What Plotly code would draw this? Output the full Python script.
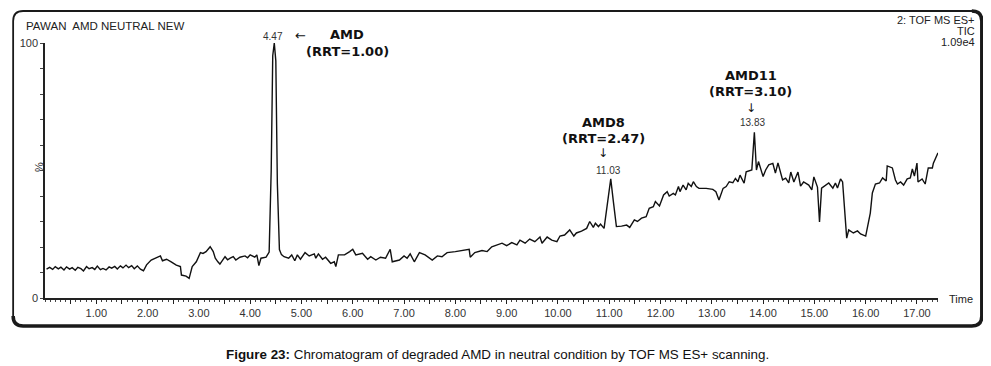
import plotly.graph_objects as go

# ---------------- data ----------------
time_min = [
    0.03, 0.09, 0.15, 0.20, 0.26, 0.31, 0.37, 0.42, 0.48, 0.53, 0.59, 0.64, 0.70, 0.75,
    0.81, 0.86, 0.92, 0.97, 1.02, 1.08, 1.13, 1.19, 1.25, 1.30, 1.36, 1.41, 1.47, 1.52,
    1.58, 1.63, 1.69, 1.74, 1.80, 1.86, 1.92, 1.98,
    2.07, 2.12, 2.17, 2.25, 2.29, 2.37, 2.46, 2.56, 2.64, 2.66, 2.75, 2.81, 2.87, 2.95,
    3.03, 3.08, 3.14, 3.22, 3.28, 3.32, 3.37, 3.41, 3.51, 3.56, 3.61, 3.67, 3.72, 3.80,
    3.90, 3.95, 4.00, 4.09, 4.13, 4.17, 4.21, 4.31, 4.37, 4.41, 4.44, 4.47, 4.50, 4.53,
    4.57, 4.61,
    4.66, 4.75, 4.81, 4.87, 4.92, 4.98, 5.07, 5.15, 5.25, 5.28, 5.33, 5.41, 5.47, 5.57,
    5.64, 5.67, 5.72, 5.84, 5.94, 6.00, 6.06, 6.19, 6.29, 6.35, 6.45, 6.54, 6.64, 6.73,
    6.77, 6.91, 7.00, 7.06, 7.12, 7.20, 7.30, 7.41, 7.55, 7.65, 7.74, 7.84, 8.00, 8.19,
    8.27, 8.29, 8.38, 8.52, 8.62, 8.71, 8.81, 8.91, 9.00, 9.10, 9.20, 9.26, 9.36, 9.45,
    9.55, 9.65, 9.69, 9.79, 9.88, 9.98, 10.04, 10.13, 10.23, 10.31, 10.36, 10.46, 10.56,
    10.62, 10.69, 10.73, 10.79, 10.83, 10.90, 10.97, 11.03, 11.08, 11.14, 11.24, 11.34,
    11.40, 11.49, 11.55, 11.63, 11.72, 11.78, 11.86, 11.90, 11.98, 12.06, 12.13, 12.17,
    12.25, 12.29, 12.35, 12.38, 12.44, 12.50, 12.54, 12.60, 12.64, 12.70, 12.75, 12.89,
    13.02, 13.08, 13.14, 13.22, 13.28, 13.34, 13.41, 13.46, 13.51, 13.55, 13.63, 13.67,
    13.78, 13.83, 13.87, 13.91, 14.00, 14.05, 14.11, 14.19, 14.24, 14.29, 14.38, 14.44,
    14.50, 14.54, 14.60, 14.68, 14.73, 14.79, 14.89, 14.95, 14.99, 15.06, 15.10, 15.14,
    15.28, 15.36, 15.41, 15.45, 15.51, 15.55, 15.63, 15.67, 15.76, 15.84, 15.90, 16.00,
    16.09, 16.13, 16.19, 16.27, 16.33, 16.40, 16.42, 16.52, 16.58, 16.62, 16.68, 16.74,
    16.81, 16.87, 16.91, 16.95, 17.00, 17.02, 17.10, 17.16, 17.22, 17.30, 17.32, 17.41,
]
intensity_pct = [
    11.3, 12.0, 11.2, 12.3, 11.4, 12.1, 11.0, 12.2, 11.3, 11.9, 10.9, 12.0, 11.5, 10.6,
    12.3, 11.5, 11.9, 11.2, 12.5, 11.1, 11.6, 11.0, 12.2, 11.7, 12.4, 11.4, 12.6, 11.8,
    12.9, 11.9, 12.7, 11.5, 12.6, 11.3, 10.7, 13.0,
    14.9, 15.3, 16.0, 16.5, 14.6, 15.2, 14.2, 12.9, 12.3, 9.0, 8.6, 7.7, 12.3, 14.2,
    17.8, 17.5, 18.2, 20.1, 18.2, 15.6, 14.2, 13.3, 16.2, 15.0, 15.6, 16.2, 14.9, 16.0,
    16.5, 15.8, 16.9, 16.0, 16.9, 12.7, 15.6, 16.0, 18.0, 50.0, 95.0, 100.0, 93.0, 45.0,
    19.0, 17.0,
    16.2, 15.6, 16.9, 14.6, 16.9, 15.2, 17.8, 16.5, 17.3, 15.6, 17.3, 15.2, 16.0, 13.6,
    14.2, 12.3, 16.9, 16.9, 18.2, 19.1, 16.9, 17.5, 15.2, 16.2, 14.9, 16.0, 15.6, 19.1,
    14.2, 14.9, 16.5, 15.6, 17.3, 14.2, 17.8, 16.9, 14.9, 16.5, 16.2, 17.8, 18.2, 18.8,
    19.1, 16.0, 17.8, 18.6, 18.2, 20.1, 20.8, 21.5, 20.5, 21.7, 20.8, 22.7, 21.5, 23.1,
    22.1, 23.9, 21.5, 23.9, 22.7, 22.1, 24.3, 24.7, 26.7, 24.3, 25.5, 26.2, 27.3,
    30.0, 27.7, 29.3, 28.0, 29.0, 27.3, 38.0, 46.7, 38.0, 28.0, 28.2, 28.6,
    27.7, 30.6, 30.0, 31.3, 31.9, 35.2, 35.8, 37.8, 36.1, 40.4, 41.7, 40.0,
    41.0, 40.4, 43.7, 41.7, 44.3, 42.4, 45.0, 43.7, 45.6, 43.7, 43.0, 43.0,
    42.6, 41.7, 38.4, 43.0, 43.7, 45.6, 45.2, 46.9, 45.6, 48.2, 45.0, 49.5,
    50.2, 65.0, 50.2, 53.5, 47.6, 50.2, 52.2, 52.8, 49.0, 53.0, 46.3, 47.0,
    45.1, 49.4, 45.5, 49.4, 43.9, 45.5, 44.3, 42.4, 47.5, 43.5, 29.8, 43.1,
    45.1, 43.1, 45.1, 43.1, 46.7, 45.5, 23.5, 26.7, 25.5, 26.3, 25.1, 24.3,
    33.3, 41.2, 44.7, 45.1, 47.1, 45.9, 51.8, 51.0, 46.3, 44.7, 45.5, 44.3,
    46.7, 47.1, 50.6, 47.8, 52.9, 45.5, 46.7, 44.7, 51.0, 51.0, 52.9, 56.9,
]

x_major_ticks = [0.5 * i for i in range(1, 35)]          # every 0.50 min
x_tick_labels = ["%.2f" % v if abs(v - round(v)) < 1e-9 else "" for v in x_major_ticks]
y_ticks = [0, 10, 20, 30, 40, 50, 60, 70, 80, 90, 100]
y_tick_labels = ["0", "", "", "", "", "", "", "", "", "", "100"]

peak_times = [4.47, 11.03, 13.83]
peak_labels = ["4.47", "11.03", "13.83"]
compound_names = ["AMD", "AMD8", "AMD11"]
rrt_labels = ["(RRT=1.00)", "(RRT=2.47)", "(RRT=3.10)"]

header_left = "PAWAN\u00a0 AMD NEUTRAL NEW"
header_right = ["2: TOF MS ES+", "TIC", "1.09e4"]
caption_bold = "Figure 23:"
caption_text = " Chromatogram of degraded AMD in neutral condition by TOF MS ES+ scanning."

# ---------------- layout geometry ----------------
# The page body has an 8px default margin: the figure starts at (8, 8) in the window.
OFF = 8
WIN_W, WIN_H = 991, 366
W, H = WIN_W - OFF, WIN_H - OFF
PLOT_L, PLOT_R, PLOT_T, PLOT_B = 41, 938, 43, 298       # window pixel positions of plot area
ML, MT = PLOT_L - OFF, PLOT_T - OFF
MR, MB = W - (PLOT_R - OFF), H - (PLOT_B - OFF)
PW, PH = PLOT_R - PLOT_L, PLOT_B - PLOT_T
X_MAX = 17.41

SANS = "Liberation Sans, Arial, sans-serif"
BOLD = "DejaVu Sans, Verdana, sans-serif"


def paper(px, py):
    """window pixel -> paper coordinates"""
    return (px - PLOT_L) / PW, (PLOT_B - py) / PH


fig = go.Figure()
fig.add_trace(go.Scatter(
    x=time_min, y=intensity_pct, mode="lines",
    line=dict(color="#111111", width=1.4), hoverinfo="skip", showlegend=False,
))

annotations = []


def add_text(text, px, py, size, family=SANS, xanchor="center", color="#222222", textangle=0):
    xp, yp = paper(px, py)
    annotations.append(dict(
        text=text, x=xp, y=yp, xref="paper", yref="paper", showarrow=False,
        xanchor=xanchor, yanchor="middle", textangle=textangle,
        font=dict(family=family, size=size, color=color),
    ))


# header texts
add_text(header_left, 20, 26, 11.5, xanchor="left")
for i, line in enumerate(header_right):
    add_text(line, 977, 20 + i * 11, 11, xanchor="right")

# axis titles
add_text("%", 35, 167, 11, textangle=-90)
add_text("Time", 947, 299, 11, xanchor="left")

# peak labels (retention times)
peak_label_px = [(270, 36), (607, 170), (752, 122.5)]
for t, lab, (px, py) in zip(peak_times, peak_labels, peak_label_px):
    add_text(lab, px, py, 10, color="#333333")

# compound name / RRT labels
name_px = [(344.5, 35), (602, 122), (750, 75)]
for name, rrt, (px, py) in zip(compound_names, rrt_labels, name_px):
    add_text("<b>" + name + "</b>", px, py, 13, family=BOLD, color="#111111")
    add_text("<b>" + rrt + "</b>", px, py + 16.5, 13, family=BOLD, color="#111111")

# arrows
add_text("\u2190", 297.5, 35.5, 13, family="DejaVu Sans", color="#111111")
add_text("\u2193", 602, 152.5, 12, family="DejaVu Sans", color="#111111")
add_text("\u2193", 750.5, 107.5, 12, family="DejaVu Sans", color="#111111")

# caption
add_text("<b>" + caption_bold + "</b>" + caption_text, 496, 354, 13.4, color="#111111")

# frame (rounded box with heavier right/bottom edge)
x0, y_top = paper(9, 11)
x1, y_bot = paper(982, 326)
rx, ry = 10 / PW, 10 / PH
frame = (f"M {x0+rx},{y_top} L {x1-rx},{y_top} Q {x1},{y_top} {x1},{y_top-ry} "
         f"L {x1},{y_bot+ry} Q {x1},{y_bot} {x1-rx},{y_bot} L {x0+rx},{y_bot} "
         f"Q {x0},{y_bot} {x0},{y_bot+ry} L {x0},{y_top-ry} Q {x0},{y_top} {x0+rx},{y_top} Z")
heavy = (f"M {x1-rx},{y_top} Q {x1},{y_top} {x1},{y_top-ry} "
         f"L {x1},{y_bot+ry} Q {x1},{y_bot} {x1-rx},{y_bot} L {x0+rx},{y_bot} "
         f"Q {x0},{y_bot} {x0},{y_bot+ry}")
shapes = [
    dict(type="path", path=frame, xref="paper", yref="paper",
         line=dict(color="#1a1a1a", width=1.8)),
    dict(type="path", path=heavy, xref="paper", yref="paper",
         line=dict(color="#1a1a1a", width=3.5)),
]

fig.update_layout(
    width=W, height=H,
    margin=dict(l=ML, r=MR, t=MT, b=MB, pad=0),
    paper_bgcolor="white", plot_bgcolor="white",
    showlegend=False,
    annotations=annotations,
    shapes=shapes,
    xaxis=dict(
        range=[0, X_MAX], showgrid=False, zeroline=False,
        showline=True, linecolor="#222222", linewidth=1.5,
        ticks="outside", ticklen=4, tickwidth=1.2, tickcolor="#222222",
        tickmode="array", tickvals=x_major_ticks, ticktext=x_tick_labels,
        tickfont=dict(family=SANS, size=11, color="#333333"),
        minor=dict(ticks="outside", ticklen=2, tickwidth=1, tickcolor="#444444", dtick=0.1,
                   showgrid=False),
        fixedrange=True,
    ),
    yaxis=dict(
        range=[0, 100], showgrid=False, zeroline=False,
        showline=True, linecolor="#222222", linewidth=1.5,
        ticks="outside", ticklen=3, tickwidth=1, tickcolor="#444444",
        tickmode="array", tickvals=y_ticks, ticktext=y_tick_labels,
        tickfont=dict(family=SANS, size=11, color="#333333"),
        fixedrange=True,
    ),
)

fig.write_html("out.html")
